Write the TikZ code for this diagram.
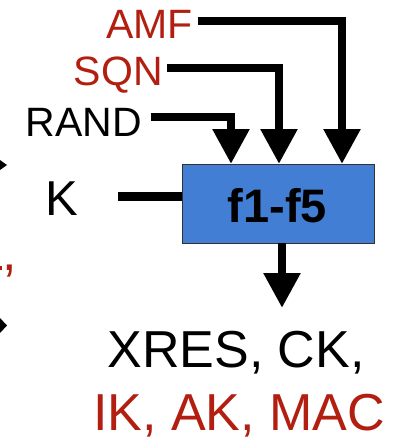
\documentclass[tikz,border=0pt]{standalone}
\usepackage{fontspec}
\setmainfont{Liberation Sans}
\usetikzlibrary{arrows.meta}
\definecolor{lblred}{RGB}{178,30,16}
\definecolor{boxblue}{RGB}{66,126,212}
\definecolor{boxedge}{RGB}{50,50,50}
\tikzset{
  toplbl/.style={inner sep=0pt, font=\fontsize{41}{41}\selectfont},
  redlbl/.style={toplbl, text=lblred},
  botlbl/.style={inner sep=0pt, font=\fontsize{52}{52}\selectfont},
  wire/.style={line width=8.5pt, line join=miter},
  arr/.style={wire, -{Triangle[length=35pt,width=35pt]}},
  fbox/.style={draw=boxedge, line width=1pt, fill=boxblue, minimum width=192pt, minimum height=79pt, inner sep=0pt}
}
\begin{document}
\begin{tikzpicture}[x=1pt,y=-1pt]
\useasboundingbox (0,0) rectangle (401,441);
% block
\node[fbox] (box) at (278,203.5) {};
\node[inner sep=0pt, anchor=base, font=\bfseries\fontsize{47}{47}\selectfont] (f) at (277.5,222) {f1-f5};
% inputs
\node[redlbl, anchor=base east] (amf) at (193,39) {AMF};
\node[redlbl, anchor=base east] (sqn) at (163,86) {SQN};
\node[toplbl, anchor=base east] (rand) at (142,136) {RAND};
\node[inner sep=0pt, anchor=base west, font=\fontsize{49}{49}\selectfont] (k) at (45,215) {K};
\coordinate (amfout) at (198,21);
\coordinate (sqnout) at (167,68);
\coordinate (randout) at (151,117);
\coordinate (kout) at (118,196.5);
\coordinate (inA) at (231,164);
\coordinate (inB) at (279,164);
\coordinate (inC) at (342,164);
\draw[arr] (amfout) -| (inC);
\draw[arr] (sqnout) -| (inB);
\draw[arr] (randout) -| (inA);
\draw[wire] (kout) -- (kout -| box.west);
% output
\coordinate (outtop) at (282,243);
\coordinate (outtip) at (282,308);
\draw[arr] (outtop) -- (outtip);
\node[botlbl, anchor=base] (o1) at (236,367) {XRES, CK,};
\node[botlbl, anchor=base, text=lblred] (o2) at (239,430.5) {IK, AK, MAC};
% fragments at left edge
\fill (0,160) -- (7,165) -- (0,170) -- cycle;
\fill (0,318) -- (7,325.5) -- (0,333) -- cycle;
\fill[lblred] (0,266) rectangle (2,270);
\node[botlbl, anchor=base west, text=lblred] (cm) at (2,270) {,};
\end{tikzpicture}
\end{document}
